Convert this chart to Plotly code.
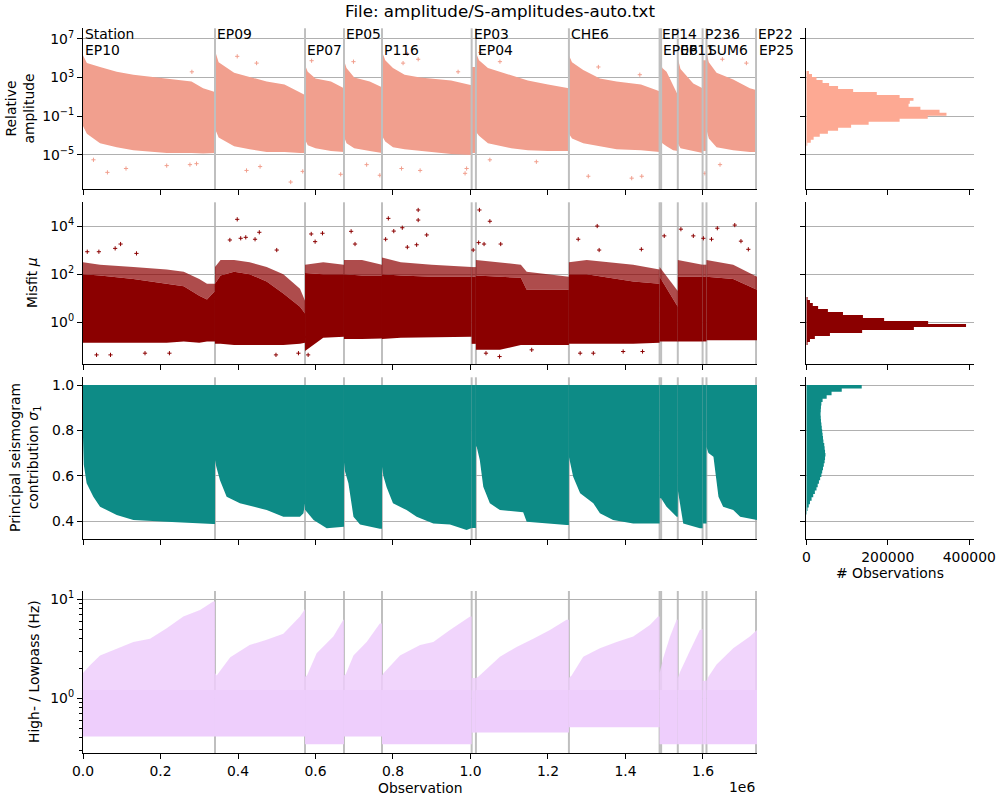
import plotly.graph_objects as go

# ---------------- data ----------------
stations = ["EP10", "EP09", "EP07", "EP05", "P116", "EP03", "EP04", "CHE6",
            "EP14", "EP06", "EP11", "P236", "SUM6", "EP22", "EP25"]
station_start = [0, 340600, 573000, 673500, 771600, 1003000, 1014000, 1254000,
                 1488000, 1492000, 1535000, 1599000, 1609000, 1737000, 1739000]
label_row = [1, 0, 1, 0, 1, 0, 1, 0, 0, 1, 1, 0, 1, 0, 1]   # 0 = upper row, 1 = lower row
n_obs = 1739400

x_ticks = [0, 200000, 400000, 600000, 800000, 1000000, 1200000, 1400000, 1600000]
x_ticktext = ["0.0", "0.2", "0.4", "0.6", "0.8", "1.0", "1.2", "1.4", "1.6"]

# Panel 1: relative amplitude, dense cloud envelope per station (log10 values)
amp_x = [[0, 10000, 44000, 87000, 130000, 216000, 280000, 310000, 340600],
         [340600, 350000, 390000, 430000, 474000, 520000, 560000, 573000],
         [573000, 580000, 600000, 640000, 673500],
         [673500, 680000, 700000, 740000, 771600],
         [771600, 780000, 800000, 830000, 870000, 950000, 1003000],
         [1003000, 1014000],
         [1014000, 1022000, 1045000, 1105000, 1148000, 1200000, 1254000],
         [1254000, 1262000, 1291000, 1334000, 1377000, 1440000, 1488000],
         [1488000, 1495000, 1506000, 1523000, 1535000],
         [1535000, 1542000, 1575000, 1599000],
         [1599000, 1609000],
         [1609000, 1615000, 1635000, 1678000, 1721000, 1739400]]
amp_hi = [[5.3, 4.5, 4.1, 3.6, 3.3, 2.9, 2.6, 1.9, 1.5],
          [5.8, 4.6, 3.5, 3.1, 2.6, 2.3, 1.5, 1.2],
          [4.3, 3.6, 2.9, 2.6, 1.9],
          [4.8, 4.0, 3.0, 2.6, 2.0],
          [5.7, 4.8, 4.0, 3.3, 3.0, 2.7, 2.2],
          [4.1, 4.1],
          [5.6, 4.8, 4.0, 3.2, 2.7, 2.3, 1.9],
          [5.3, 4.6, 3.8, 2.9, 2.6, 2.3, 1.6],
          [5.2, 4.0, 3.6, 2.1, 1.2],
          [5.0, 3.9, 2.4, 1.9],
          [4.8, 4.8],
          [5.6, 4.6, 3.5, 2.8, 1.9, 1.7]]
amp_lo = [[-2.0, -2.8, -3.8, -4.2, -4.5, -4.8, -4.8, -4.85, -4.8],
          [-2.3, -3.2, -4.1, -4.4, -4.7, -4.7, -4.8, -4.8],
          [-3.4, -4.0, -4.3, -4.6, -4.7],
          [-3.1, -3.8, -4.3, -4.6, -4.8],
          [-3.0, -3.6, -4.2, -4.4, -4.6, -4.9, -5.0],
          [-4.8, -4.8],
          [-2.6, -3.0, -3.8, -4.3, -4.5, -4.6, -4.6],
          [-2.8, -3.3, -3.8, -4.1, -4.4, -4.5, -4.7],
          [-3.3, -3.8, -4.1, -4.5, -4.6],
          [-3.8, -4.3, -4.6, -4.8],
          [-4.6, -4.6],
          [-2.4, -3.3, -4.2, -4.5, -4.7, -4.7]]
amp_out_x = [63000, 111000, 27000, 216000, 276000, 293000, 422000, 457000, 536000, 567000,
             665000, 766000, 732000, 822000, 870000, 986000, 990000, 1050000, 1170000,
             1304000, 1416000, 1442000, 1605000, 1644000,
             398000, 281000, 448000, 590000, 698000, 837000, 826000, 865000, 968000,
             1025000, 1076000, 1330000, 1437000, 1712000, 1650000]
amp_out_y = [-6.8, -6.4, -5.5, -6.1, -6.0, -5.9, -6.6, -6.2, -7.8, -6.7,
             -7.0, -7.1, -6.0, -6.4, -6.6, -6.9, -6.4, -5.5, -5.7,
             -7.2, -7.4, -7.2, -6.9, -6.0,
             5.2, 3.6, 4.5, 4.75, 4.65, 5.45, 4.5, 4.9, 3.6,
             5.6, 4.65, 4.1, 3.3, 4.5, 4.9]

# Panel 2: misfit, dense core (hi/lo) and sparse spray top (log10 values)
mis_x = [[0, 44000, 130000, 216000, 260000, 300000, 320000, 340600],
         [340600, 355000, 390000, 430000, 474000, 517000, 560000, 573000],
         [573000, 620000, 673500],
         [673500, 720000, 771600],
         [771600, 820000, 900000, 1003000],
         [1003000, 1014000],
         [1014000, 1076000, 1130000, 1145000, 1254000],
         [1254000, 1300000, 1420000, 1488000],
         [1488000, 1535000],
         [1535000, 1599000],
         [1599000, 1609000],
         [1609000, 1678000, 1739400]]
mis_hi = [[2.0, 1.95, 1.8, 1.6, 1.5, 1.1, 0.95, 1.3],
          [1.6, 1.95, 2.1, 2.0, 1.7, 1.2, 0.65, 0.37],
          [2.05, 2.0, 2.0],
          [2.0, 1.95, 1.95],
          [2.0, 1.95, 1.9, 1.9],
          [1.9, 1.9],
          [1.95, 1.9, 1.85, 1.35, 1.35],
          [2.0, 2.0, 1.7, 1.6],
          [1.9, 0.65],
          [1.9, 1.9],
          [1.9, 1.9],
          [1.9, 1.8, 1.35]]
mis_spray = [[2.5, 2.4, 2.3, 2.2, 2.1, 1.8, 1.6, 1.6],
             [2.3, 2.6, 2.6, 2.5, 2.3, 2.0, 1.4, 0.9],
             [2.4, 2.5, 2.4],
             [2.6, 2.6, 2.4],
             [2.7, 2.5, 2.4, 2.3],
             [2.3, 2.3],
             [2.6, 2.5, 2.4, 2.1, 1.9],
             [2.5, 2.6, 2.4, 2.2],
             [2.3, 1.3],
             [2.6, 2.4],
             [2.4, 2.4],
             [2.6, 2.4, 1.9]]
mis_lo = [[-0.85, -0.85, -0.85, -0.85, -0.8, -0.85, -0.8, -0.8],
          [-0.9, -0.9, -0.95, -0.95, -0.95, -0.95, -0.9, -0.85],
          [-1.2, -0.65, -0.6],
          [-0.7, -0.7, -0.68],
          [-0.7, -0.65, -0.62, -0.6],
          [-0.9, -0.9],
          [-1.15, -1.15, -0.95, -0.95, -0.95],
          [-0.9, -0.9, -0.9, -0.85],
          [-0.8, -0.8],
          [-0.8, -0.8],
          [-0.8, -0.8],
          [-0.75, -0.75, -0.75]]
mis_out_x = [398000, 379000, 407000, 420000, 455000, 444000, 97000, 83000, 41000, 11000,
             138000, 500000, 589000, 618000, 599000, 692000, 702000, 781000, 788000, 802000,
             824000, 865000, 865000, 837000, 887000, 861000, 1023000, 1050000, 1007000,
             1021000, 1035000, 1078000, 1327000, 1278000, 1332000, 1441000, 1500000,
             1543000, 1575000, 1601000, 1637000, 1682000, 1698000, 1717000, 1622000,
             71000, 160000, 223000, 498000, 556000, 581000, 35000, 1040000, 1075000,
             1158000, 1283000, 1317000, 1394000, 1444000]
mis_out_y = [4.29, 3.43, 3.5, 3.54, 3.75, 3.46, 3.26, 3.08, 2.94, 2.94,
             2.87, 3.01, 3.68, 3.71, 3.36, 3.79, 3.26, 3.46, 4.33, 3.8,
             3.94, 4.68, 4.26, 3.13, 3.64, 3.23, 4.68, 4.21, 3.01,
             3.32, 3.26, 3.26, 4.01, 3.46, 3.01, 3.04, 3.6,
             3.88, 3.6, 3.5, 3.92, 4.05, 3.38, 3.04, 3.46,
             -1.36, -1.29, -1.29, -1.36, -1.29, -1.36, -1.36, -1.29, -1.43,
             -1.15, -1.29, -1.29, -1.22, -1.22]

# Panel 3: principal seismogram contribution, lower envelope per station (top = 1.0)
sig_top = 1.0
sig_x = [[0, 2000, 9400, 26700, 44000, 87000, 130000, 216000, 336000, 340600],
         [340600, 344000, 353500, 370700, 405000, 474000, 517000, 560000, 569000, 573000],
         [573000, 595000, 629000, 673500],
         [673500, 676000, 685000, 698000, 715000, 766000, 771600],
         [771600, 775000, 783600, 800000, 835000, 861000, 904000, 947000, 990000, 1003000],
         [1003000, 1014000],
         [1014000, 1016000, 1024000, 1033000, 1050000, 1076000, 1136000, 1145000, 1248000, 1254000],
         [1254000, 1257000, 1265000, 1283000, 1317000, 1334000, 1368000, 1420000, 1485000, 1488000],
         [1488000, 1492000, 1506000, 1532000, 1535000],
         [1535000, 1538000, 1549000, 1592000, 1599000],
         [1599000, 1609000],
         [1609000, 1614000, 1627000, 1640000, 1652000, 1678000, 1696000, 1739400]]
sig_lo = [[0.77, 0.65, 0.567, 0.508, 0.464, 0.427, 0.405, 0.398, 0.388, 0.388],
          [0.67, 0.64, 0.58, 0.508, 0.479, 0.449, 0.42, 0.42, 0.435, 0.48],
          [0.45, 0.405, 0.369, 0.376],
          [0.66, 0.62, 0.567, 0.42, 0.386, 0.367, 0.367],
          [0.64, 0.6, 0.55, 0.479, 0.449, 0.42, 0.39, 0.385, 0.361, 0.37],
          [0.37, 0.37],
          [0.73, 0.728, 0.67, 0.552, 0.479, 0.449, 0.44, 0.398, 0.383, 0.383],
          [0.684, 0.66, 0.596, 0.523, 0.479, 0.435, 0.405, 0.39, 0.39, 0.39],
          [0.501, 0.501, 0.464, 0.42, 0.42],
          [0.537, 0.5, 0.39, 0.369, 0.369],
          [0.39, 0.39],
          [0.728, 0.7, 0.684, 0.508, 0.464, 0.449, 0.42, 0.405]]

# Panel 4: high-pass (lower) and low-pass (upper) corner frequencies, Hz
hp_level = [0.41, 0.41, 0.343, 0.41, 0.343, 0.45, 0.45, 0.51, 0.343, 0.343, 0.343, 0.343]
lp_dense_top = 1.21
lp_x = [[0, 5000, 20000, 44000, 90000, 130000, 173000, 216000, 259000, 302000, 336000, 340600],
        [340600, 345000, 380000, 430000, 474000, 517000, 560000, 573000],
        [573000, 578000, 603000, 646000, 672000, 673500],
        [673500, 678000, 698000, 732000, 766000, 771600],
        [771600, 776000, 818000, 870000, 904000, 947000, 999000, 1003000],
        [1003000, 1014000],
        [1014000, 1020000, 1076000, 1119000, 1162000, 1205000, 1248000, 1254000],
        [1254000, 1261000, 1291000, 1334000, 1377000, 1420000, 1463000, 1484000, 1488000],
        [1488000, 1498000, 1515000, 1532000, 1535000],
        [1535000, 1541000, 1566000, 1592000, 1599000],
        [1599000, 1609000],
        [1609000, 1614000, 1635000, 1678000, 1721000, 1739400]]
lp_up = [[1.8, 1.9, 2.2, 2.7, 3.2, 3.7, 4.0, 5.1, 6.7, 7.8, 9.5, 9.5],
         [1.8, 1.7, 2.6, 3.45, 3.9, 4.5, 6.7, 8.0],
         [1.65, 1.7, 2.85, 4.2, 6.2, 6.2],
         [1.7, 1.75, 2.7, 3.7, 5.7, 5.7],
         [1.7, 1.8, 2.7, 3.45, 3.7, 4.9, 6.7, 6.7],
         [1.6, 1.6],
         [1.6, 1.65, 2.63, 3.3, 4.0, 4.9, 6.2, 6.2],
         [1.6, 1.7, 2.63, 3.2, 3.7, 4.2, 5.5, 6.7, 6.7],
         [1.8, 2.6, 4.2, 6.2, 6.2],
         [1.6, 1.85, 3.0, 4.9, 5.0],
         [1.5, 1.5],
         [1.5, 1.65, 2.2, 3.2, 4.2, 4.9]]

# Histograms
amp_hist_edges = [-4.04, -3.73, -3.42, -3.11, -2.80, -2.50, -2.19, -1.88, -1.57, -1.26, -0.95,
                  -0.64, -0.33, -0.02, 0.29, 0.60, 0.90, 1.21, 1.52, 1.83, 2.14, 2.45, 2.76,
                  3.07, 3.38, 3.69]
amp_hist_counts = [2500, 11000, 18000, 33000, 53000, 78000, 110000, 153000, 229000, 298000,
                   344000, 327000, 280000, 251000, 254000, 263000, 229000, 173000, 115000,
                   78000, 56000, 40000, 25000, 14000, 6500]
mis_hist_edges = [-0.95, -0.825, -0.70, -0.575, -0.45, -0.325, -0.20, -0.075, 0.05, 0.175,
                  0.30, 0.425, 0.55, 0.675, 0.80, 0.925, 1.05]
mis_hist_counts = [3200, 9000, 21000, 58000, 137000, 264000, 392000, 299000, 191000, 139000,
                   90000, 53000, 29000, 16000, 9000, 3200]
sig_hist_edges = [0.430, 0.445, 0.460, 0.475, 0.490, 0.505, 0.520, 0.535, 0.550, 0.565,
                  0.580, 0.595, 0.610, 0.625, 0.640, 0.655, 0.670, 0.685, 0.700, 0.715,
                  0.730, 0.745, 0.760, 0.775, 0.790, 0.805, 0.820, 0.835, 0.850, 0.865,
                  0.880, 0.895, 0.910, 0.925, 0.940, 0.955, 0.970, 0.985, 1.000]
sig_hist_counts = [1500, 3000, 6000, 9000, 13000, 17000, 21000, 25000, 28000, 31000,
                   34000, 37000, 39000, 41000, 43000, 45000, 46000, 47000, 46000, 45000,
                   44000, 42000, 41000, 40000, 39000, 38000,
                   37000, 36000, 35500, 35000, 35500, 36000, 37000, 40000, 50000, 62000,
                   87000, 136000]

# ---------------- styling ----------------
FONT = "DejaVu Sans"
C_AMP = "#F19F8E"
C_AMP_H = "#FDA993"
C_MIS = "#8B0000"
C_MIS_SPRAY = "rgba(139,0,0,0.7)"
C_SIG = "#0D8B86"
C_LP = "#EECEFC"
C_LP_T = "rgba(238,206,252,0.85)"
GRID = "#b0b0b0"
VLINE = "#bfbfbf"

W, H = 1000, 800
def px(v):  # pixel (from top) -> paper y
    return 1 - v / H

main_dom = [0.083, 0.757]
hist_dom = [0.8063, 0.9737]
y_doms = [[px(189), px(28.3)], [px(364), px(202.3)], [px(539), px(377.3)], [px(753), px(591)]]

fig = go.Figure()

def poly(xs_top, ys_top, xs_bot, ys_bot, color, xa, ya):
    fig.add_trace(go.Scatter(x=list(xs_top) + list(xs_bot)[::-1],
                             y=list(ys_top) + list(ys_bot)[::-1],
                             fill="toself", fillcolor=color, mode="lines",
                             line=dict(width=0, color=color),
                             xaxis=xa, yaxis=ya, hoverinfo="skip", showlegend=False))

# Panel 1
for xs, hi, lo in zip(amp_x, amp_hi, amp_lo):
    poly(xs, [10 ** v for v in hi], xs, [10 ** v for v in lo], C_AMP, "x", "y")
fig.add_trace(go.Scatter(x=amp_out_x, y=[10 ** v for v in amp_out_y], mode="markers",
                         marker=dict(symbol="cross-thin", size=3, line=dict(width=1, color=C_AMP)),
                         xaxis="x", yaxis="y", hoverinfo="skip", showlegend=False))

# Panel 2
for xs, sp, hi, lo in zip(mis_x, mis_spray, mis_hi, mis_lo):
    poly(xs, [10 ** v for v in sp], xs, [10 ** v for v in hi], C_MIS_SPRAY, "x2", "y2")
    poly(xs, [10 ** v for v in hi], xs, [10 ** v for v in lo], C_MIS, "x2", "y2")
fig.add_trace(go.Scatter(x=mis_out_x, y=[10 ** v for v in mis_out_y], mode="markers",
                         marker=dict(symbol="cross-thin", size=3, line=dict(width=1, color=C_MIS)),
                         xaxis="x2", yaxis="y2", hoverinfo="skip", showlegend=False))

# Panel 3
for xs, lo in zip(sig_x, sig_lo):
    poly(xs, [sig_top] * len(xs), xs, lo, C_SIG, "x3", "y3")

# Panel 4
for xs, up, hp in zip(lp_x, lp_up, hp_level):
    poly([xs[0], xs[-1]], [lp_dense_top, lp_dense_top], [xs[0], xs[-1]], [hp, hp], C_LP, "x4", "y4")
    poly(xs, up, [xs[0], xs[-1]], [lp_dense_top, lp_dense_top], C_LP_T, "x4", "y4")

# Histograms
def hist_poly(edges, counts, color, xa, ya):
    xs, ys = [0], [edges[0]]
    for i, c in enumerate(counts):
        xs += [c, c]
        ys += [edges[i], edges[i + 1]]
    xs.append(0)
    ys.append(edges[-1])
    fig.add_trace(go.Scatter(x=xs, y=ys, fill="toself", fillcolor=color, mode="lines",
                             line=dict(width=0, color=color), xaxis=xa, yaxis=ya,
                             hoverinfo="skip", showlegend=False))

hist_poly([10 ** e for e in amp_hist_edges], amp_hist_counts, C_AMP_H, "x5", "y5")
hist_poly([10 ** e for e in mis_hist_edges], mis_hist_counts, C_MIS, "x6", "y6")
hist_poly(sig_hist_edges, sig_hist_counts, C_SIG, "x7", "y7")

# ---------------- axes ----------------
tickfont = dict(family=FONT, size=13.9, color="black")
base_axis = dict(showline=True, linecolor="black", linewidth=1.1, ticks="outside",
                 ticklen=5, tickwidth=1.1, tickcolor="black", zeroline=False,
                 tickfont=tickfont, mirror=False, automargin=False)

y_specs = [
    dict(type="log", range=[-8.52, 8.10], tickvals=[1e-5, 1e-1, 1e3, 1e7],
         ticktext=["10<sup>−5</sup>", "10<sup>−1</sup>", "10<sup>3</sup>", "10<sup>7</sup>"]),
    dict(type="log", range=[-1.74, 5.0], tickvals=[1, 100, 10000],
         ticktext=["10<sup>0</sup>", "10<sup>2</sup>", "10<sup>4</sup>"]),
    dict(type="linear", range=[0.3216, 1.034], tickvals=[0.4, 0.6, 0.8, 1.0],
         ticktext=["0.4", "0.6", "0.8", "1.0"]),
    dict(type="log", range=[-0.553, 1.084], tickvals=[1, 10],
         ticktext=["10<sup>0</sup>", "10<sup>1</sup>"],
         minor=dict(tickmode="array", tickvals=[0.3, 0.4, 0.5, 0.6, 0.7, 0.8, 0.9,
                                                2, 3, 4, 5, 6, 7, 8, 9],
                    ticks="outside", ticklen=3, tickwidth=0.8, tickcolor="black",
                    showgrid=False)),
]

layout = dict(width=W, height=H, margin=dict(l=0, r=0, t=0, b=0, autoexpand=False),
              paper_bgcolor="white", plot_bgcolor="white",
              font=dict(family=FONT, size=13.9, color="black"), showlegend=False)

for i in range(4):
    n = "" if i == 0 else str(i + 1)
    layout["xaxis" + n] = dict(base_axis, domain=main_dom, anchor="y" + n,
                               range=[0, n_obs], tickmode="array", tickvals=x_ticks,
                               ticktext=x_ticktext, showticklabels=(i == 3), showgrid=False)
    layout["yaxis" + n] = dict(base_axis, domain=y_doms[i], anchor="x" + n,
                               tickmode="array", showgrid=True, gridcolor=GRID, gridwidth=1.1,
                               **y_specs[i])

for j in range(3):
    n = str(j + 5)
    layout["xaxis" + n] = dict(base_axis, domain=hist_dom, anchor="y" + n,
                               range=[0, 410800], tickmode="array",
                               tickvals=[0, 200000, 400000], ticktext=["0", "200000", "400000"],
                               showticklabels=(j == 2), showgrid=False)
    ys = dict(y_specs[j])
    layout["yaxis" + n] = dict(base_axis, domain=y_doms[j], anchor="x" + n,
                               tickmode="array", showgrid=True, gridcolor=GRID, gridwidth=1.1,
                               showticklabels=False, **ys)

# station lines
shapes = []
for s in station_start[1:]:
    for i in range(4):
        n = "" if i == 0 else str(i + 1)
        shapes.append(dict(type="line", xref="x" + n, yref="y" + n + " domain",
                           x0=s, x1=s, y0=0, y1=1,
                           line=dict(color=VLINE, width=2),
                           layer="above" if i == 0 else "below"))
layout["shapes"] = shapes

# annotations
ann = []
ann.append(dict(text="File: amplitude/S-amplitudes-auto.txt", x=0.5, y=px(11),
                xref="paper", yref="paper", xanchor="center", yanchor="middle",
                showarrow=False, font=dict(family=FONT, size=16.7, color="black")))
ann.append(dict(text="Station", x=station_start[0], y=px(34.3), xref="x", yref="paper",
                xanchor="left", yanchor="middle", showarrow=False,
                font=dict(family=FONT, size=13.9, color="black")))
for name, s, r in zip(stations, station_start, label_row):
    ann.append(dict(text=name, x=s, y=px(34.3 if r == 0 else 50.3), xref="x", yref="paper",
                    xanchor="left", yanchor="middle", showarrow=False,
                    font=dict(family=FONT, size=13.9, color="black")))

ytitles = [("Relative<br>amplitude", 20, 108.6),
           ("Misfit <i>μ</i>", 32, 283),
           ("Principal seismogram<br>contribution <i>σ</i><sub>1</sub>", 25, 458),
           ("High- / Lowpass (Hz)", 34, 672)]
for t, xp, yp in ytitles:
    ann.append(dict(text=t, x=xp / W, y=px(yp), xref="paper", yref="paper",
                    xanchor="center", yanchor="middle", textangle=-90, showarrow=False,
                    font=dict(family=FONT, size=13.9, color="black")))
ann.append(dict(text="Observation", x=0.42, y=px(788), xref="paper", yref="paper",
                xanchor="center", yanchor="middle", showarrow=False,
                font=dict(family=FONT, size=13.9, color="black")))
ann.append(dict(text="1e6", x=0.757, y=px(786.5), xref="paper", yref="paper",
                xanchor="right", yanchor="middle", showarrow=False,
                font=dict(family=FONT, size=13.9, color="black")))
ann.append(dict(text="# Observations", x=0.89, y=px(573), xref="paper", yref="paper",
                xanchor="center", yanchor="middle", showarrow=False,
                font=dict(family=FONT, size=13.9, color="black")))
layout["annotations"] = ann

fig.update_layout(**layout)
fig.write_html("out.html")
